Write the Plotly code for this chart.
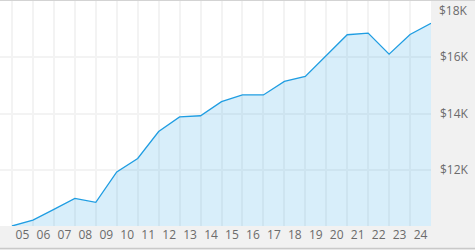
import plotly.graph_objects as go

# ---- data ----
point_index = list(range(21))
values = [10000, 10210, 10590, 10980, 10840, 11920, 12400, 13360, 13880, 13920,
          14420, 14660, 14660, 15140, 15320, 16060, 16800, 16860, 16110, 16810, 17210]
tick_labels = ["05", "06", "07", "08", "09", "10", "11", "12", "13", "14",
               "15", "16", "17", "18", "19", "20", "21", "22", "23", "24"]
label_positions = [i + 0.5 for i in range(len(tick_labels))]
y_ticks = [12000, 14000, 16000, 18000]
y_tick_text = ["$12K", "$14K", "$16K", ""]

FONT = "Open Sans, sans-serif"
TXT = "#6b6b6b"
GRID = "#f3f3f3"

fig = go.Figure()
fig.add_trace(go.Scatter(
    x=point_index, y=values, mode="lines",
    line=dict(color="#1f9de2", width=1.3),
    fill="tozeroy", fillcolor="rgba(40,160,226,0.18)",
    hoverinfo="skip",
))

fig.update_layout(
    width=475, height=250,
    margin=dict(l=0, r=44, t=1, b=24),
    paper_bgcolor="#f1f1f1", plot_bgcolor="#ffffff",
    showlegend=False,
    font=dict(family=FONT, size=12, color=TXT),
    xaxis=dict(
        range=[-0.573, 20], tickmode="array", tickvals=label_positions, ticktext=tick_labels,
        showgrid=False, zeroline=False, showline=False, ticks="",
        minor=dict(tickmode="array", tickvals=point_index, showgrid=True, gridcolor=GRID, gridwidth=1.5, ticks=""),
        tickfont=dict(size=12, color=TXT), fixedrange=True,
    ),
    yaxis=dict(
        range=[10000, 18000], side="right", tickmode="array", tickvals=y_ticks, ticktext=y_tick_text,
        showgrid=True, gridcolor=GRID, gridwidth=1.5, zeroline=False, showline=False, ticks="",
        ticklabelstandoff=8, tickfont=dict(size=12, color=TXT), fixedrange=True,
    ),
    annotations=[dict(
        text="$18K", xref="paper", yref="y", x=1, y=18000, xanchor="left", yanchor="top",
        xshift=6, yshift=1, showarrow=False, font=dict(size=12, color=TXT, family=FONT),
    )],
    shapes=[
        dict(type="line", xref="paper", yref="paper", x0=0, x1=1.11, y0=1.0044, y1=1.0044,
             line=dict(color="#c9c9c9", width=1.5)),
        dict(type="line", xref="paper", yref="paper", x0=0, x1=1.11, y0=-0.1, y1=-0.1,
             line=dict(color="#c9c9c9", width=1.5)),
    ],
)

fig.write_html("out.html")
